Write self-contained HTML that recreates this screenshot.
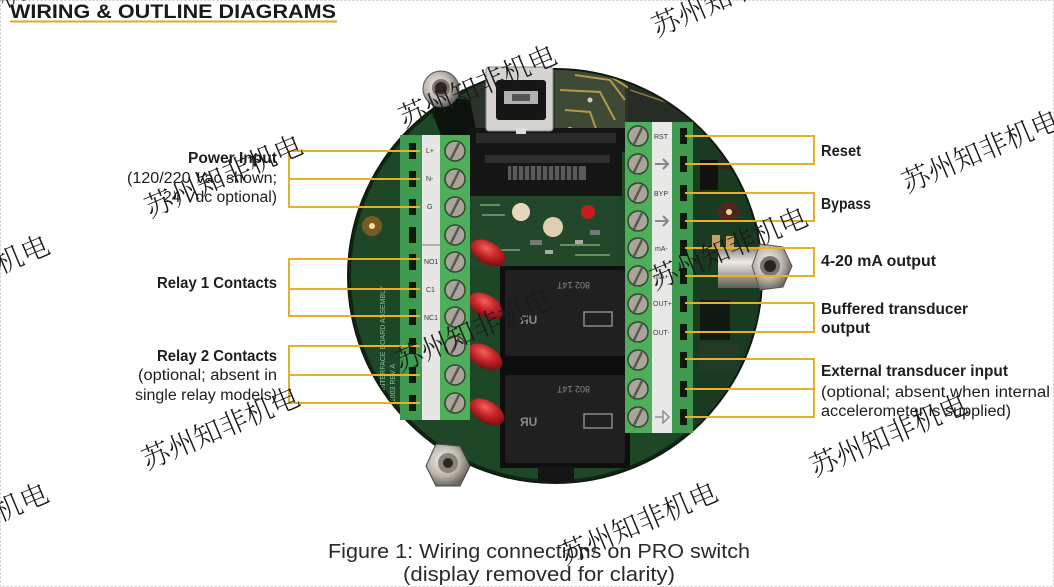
<!DOCTYPE html>
<html><head><meta charset="utf-8"><style>
html,body{margin:0;padding:0;background:#fff;}
svg{display:block;}
.lb{font-family:"Liberation Sans",sans-serif;font-size:15.5px;fill:#1e1e1e;}
.b{font-weight:bold;}
.wm{font-family:"Noto Serif CJK SC","Liberation Serif",serif;font-size:28px;fill:#1a1a1a;font-weight:300;}
.tl{font-family:"Liberation Sans",sans-serif;font-size:7px;fill:#3a3a3a;}
</style></head><body>
<svg width="1054" height="587" viewBox="0 0 1054 587" xmlns="http://www.w3.org/2000/svg">
<defs>
<clipPath id="bd"><circle cx="555" cy="276" r="206"/></clipPath>
<radialGradient id="met" cx="40%" cy="40%" r="60%"><stop offset="0" stop-color="#f4f2ee"/><stop offset="0.6" stop-color="#bdb8ae"/><stop offset="1" stop-color="#6d6860"/></radialGradient>
<linearGradient id="cyl" x1="0" y1="0" x2="0" y2="1"><stop offset="0" stop-color="#8a877f"/><stop offset="0.35" stop-color="#eeece6"/><stop offset="1" stop-color="#5e5a52"/></linearGradient>
<radialGradient id="cap" cx="40%" cy="35%" r="65%"><stop offset="0" stop-color="#f06060"/><stop offset="0.5" stop-color="#c8262a"/><stop offset="1" stop-color="#7a1014"/></radialGradient>
</defs>
<rect x="0.5" y="0.5" width="1053" height="586" fill="#fff" stroke="#c8c8c8" stroke-dasharray="2,2"/>

<!-- board -->
<circle cx="555" cy="276" r="207" fill="#1c4526" stroke="#0e1a10" stroke-width="2"/>
<g clip-path="url(#bd)">
  <rect x="330" y="60" width="460" height="440" fill="#1d4727"/>
  <circle cx="555" cy="276" r="207" fill="none" stroke="#10240f" stroke-width="6"/>
  <!-- top PCB area -->
  <rect x="468" y="60" width="160" height="92" fill="#2c3328"/>
  <rect x="555" y="66" width="70" height="82" fill="#3e4a36"/>
  <path d="M560 90 L600 92 L615 120 M565 110 L590 112 L600 140 M575 75 L610 80 L625 100 M600 70 L640 95" stroke="#b39a4a" stroke-width="2" fill="none"/>
  <circle cx="570" cy="130" r="3" fill="#ccc"/><circle cx="590" cy="100" r="2.5" fill="#ccc"/><circle cx="610" cy="135" r="3" fill="#bbb"/>
  <rect x="628" y="70" width="70" height="52" fill="#262d24"/>
  <path d="M630 90 L690 110 M640 78 L700 105" stroke="#8a7a3a" stroke-width="1.5" fill="none"/>
  <!-- right area -->
  <rect x="693" y="120" width="80" height="330" fill="#1a3a22"/>
  <rect x="700" y="160" width="18" height="30" fill="#111"/>
  <rect x="720" y="150" width="10" height="20" fill="#2a2a2a"/>
  <circle cx="729" cy="212" r="11" fill="#4a2a1c"/><circle cx="729" cy="212" r="3" fill="#f0d890"/>
  <rect x="712" y="235" width="8" height="12" fill="#c8a060"/><rect x="726" y="236" width="8" height="12" fill="#c8a060"/>
  <rect x="700" y="300" width="30" height="40" fill="#111a12"/>
  <rect x="698" y="345" width="40" height="25" fill="#223a26"/>
  <!-- left area pad -->
  <circle cx="372" cy="226" r="10" fill="#7a5a22"/><circle cx="372" cy="226" r="3" fill="#f2e2a0"/>
  <text class="tl" transform="translate(385,420) rotate(-90)" style="fill:#8fc29a;font-size:7px">1000355 INTERFACE BOARD ASSEMBLY</text>
  <text class="tl" transform="translate(395,420) rotate(-90)" style="fill:#8fc29a;font-size:7px">PWB 1003 REV A</text>
  <!-- shadow under standoff -->
  <path d="M425 95 L470 100 L478 140 L445 145 Z" fill="#0c120c"/>
  <!-- central header / connector -->
  <rect x="468" y="128" width="157" height="24" fill="#141414"/>
  <rect x="476" y="133" width="140" height="10" fill="#2a2a2a"/>
  <rect x="470" y="150" width="152" height="46" fill="#151515"/>
  <rect x="485" y="155" width="125" height="8" fill="#2e2e2e"/>
  <rect x="508" y="166" width="78" height="14" fill="#5a5a5a"/>
  <path d="M512 166 V180 M518 166 V180 M524 166 V180 M530 166 V180 M536 166 V180 M542 166 V180 M548 166 V180 M554 166 V180 M560 166 V180 M566 166 V180 M572 166 V180 M578 166 V180" stroke="#262626" stroke-width="2"/>
  <!-- small board -->
  <rect x="472" y="196" width="145" height="72" fill="#23472a"/>
  <path d="M480 205 H500 M482 215 H505 M560 245 H600 M575 255 H610 M490 250 H520" stroke="#6a8a60" stroke-width="2"/>
  <rect x="530" y="240" width="12" height="5" fill="#777"/><rect x="590" y="230" width="10" height="5" fill="#777"/>
  <rect x="545" y="250" width="8" height="4" fill="#aaa"/><rect x="575" y="240" width="8" height="4" fill="#aaa"/>
  <circle cx="521" cy="212" r="9" fill="#e6d7bd"/>
  <circle cx="553" cy="227" r="10" fill="#dfceb0"/>
  <circle cx="588" cy="212" r="7" fill="#c81c1c"/>
  <!-- relays -->
  <rect x="500" y="266" width="130" height="202" fill="#0e0e0e"/>
  <rect x="505" y="270" width="120" height="86" rx="3" fill="#202020"/>
  <rect x="505" y="375" width="120" height="88" rx="3" fill="#202020"/>
  <rect x="584" y="312" width="28" height="14" fill="none" stroke="#8a8a8a" stroke-width="1.5"/>
  <rect x="584" y="414" width="28" height="14" fill="none" stroke="#8a8a8a" stroke-width="1.5"/>
  <text x="520" y="324" font-family="Liberation Sans" font-size="12" font-weight="bold" fill="#8a8a8a">ЯU</text>
  <text x="520" y="426" font-family="Liberation Sans" font-size="12" font-weight="bold" fill="#8a8a8a">ЯU</text>
  <text x="560" y="290" font-family="Liberation Sans" font-size="9" fill="#8a8a8a" transform="rotate(180 575 286)">802 14T</text>
  <text x="560" y="394" font-family="Liberation Sans" font-size="9" fill="#8a8a8a" transform="rotate(180 575 390)">802 14T</text>
  <!-- bottom components -->
  <rect x="538" y="466" width="36" height="18" fill="#151515"/>
</g>

<!-- red capacitors -->
<g>
  <ellipse cx="488" cy="253" rx="19" ry="11" transform="rotate(30 488 253)" fill="url(#cap)"/>
  <ellipse cx="486" cy="306" rx="19" ry="11" transform="rotate(30 486 306)" fill="url(#cap)"/>
  <ellipse cx="485" cy="357" rx="19" ry="11" transform="rotate(30 485 357)" fill="url(#cap)"/>
  <ellipse cx="487" cy="412" rx="19" ry="11" transform="rotate(30 487 412)" fill="url(#cap)"/>
</g>

<!-- left terminal block -->
<rect x="400" y="135" width="22" height="285" fill="#3f9a4f"/>
<rect x="422" y="135" width="18" height="285" fill="#e6e6e4"/>
<rect x="440" y="135" width="30" height="285" fill="#4fae5a"/>
<line x1="422" y1="245" x2="440" y2="245" stroke="#777" stroke-width="1"/>
<g fill="#0e1a0e">
  <rect x="409" y="143" width="7" height="16"/><rect x="409" y="171" width="7" height="16"/><rect x="409" y="199" width="7" height="16"/><rect x="409" y="227" width="7" height="16"/><rect x="409" y="254" width="7" height="16"/><rect x="409" y="282" width="7" height="16"/><rect x="409" y="309" width="7" height="16"/><rect x="409" y="338" width="7" height="16"/><rect x="409" y="367" width="7" height="16"/><rect x="409" y="395" width="7" height="16"/>
</g>
<g fill="#a9a59a" stroke="#2d4a30" stroke-width="1.5">
  <circle cx="455" cy="151" r="10"/><circle cx="455" cy="179" r="10"/><circle cx="455" cy="207" r="10"/><circle cx="455" cy="235" r="10"/><circle cx="455" cy="262" r="10"/><circle cx="455" cy="290" r="10"/><circle cx="455" cy="317" r="10"/><circle cx="455" cy="346" r="10"/><circle cx="455" cy="375" r="10"/><circle cx="455" cy="403" r="10"/>
</g>
<g stroke="#5a5650" stroke-width="2.5">
  <line x1="451" y1="159" x2="459" y2="143"/><line x1="451" y1="187" x2="459" y2="171"/><line x1="451" y1="215" x2="459" y2="199"/><line x1="451" y1="243" x2="459" y2="227"/><line x1="451" y1="270" x2="459" y2="254"/><line x1="451" y1="298" x2="459" y2="282"/><line x1="451" y1="325" x2="459" y2="309"/><line x1="451" y1="354" x2="459" y2="338"/><line x1="451" y1="383" x2="459" y2="367"/><line x1="451" y1="411" x2="459" y2="395"/>
</g>
<g class="tl">
  <text x="426" y="153">L+</text><text x="426" y="181">N-</text><text x="427" y="209">G</text><text x="424" y="264">NO1</text><text x="426" y="292">C1</text><text x="424" y="320">NC1</text>
</g>

<!-- right terminal block -->
<rect x="625" y="122" width="27" height="311" fill="#4fae5a"/>
<rect x="652" y="122" width="20" height="311" fill="#e8e8e6"/>
<rect x="672" y="122" width="21" height="311" fill="#3f9a4f"/>
<g fill="#0e1a0e">
  <rect x="680" y="128" width="7" height="16"/><rect x="680" y="156" width="7" height="16"/><rect x="680" y="185" width="7" height="16"/><rect x="680" y="213" width="7" height="16"/><rect x="680" y="240" width="7" height="16"/><rect x="680" y="268" width="7" height="16"/><rect x="680" y="296" width="7" height="16"/><rect x="680" y="324" width="7" height="16"/><rect x="680" y="352" width="7" height="16"/><rect x="680" y="381" width="7" height="16"/><rect x="680" y="409" width="7" height="16"/>
</g>
<g fill="#a9a59a" stroke="#2d4a30" stroke-width="1.5">
  <circle cx="638" cy="136" r="10"/><circle cx="638" cy="164" r="10"/><circle cx="638" cy="193" r="10"/><circle cx="638" cy="221" r="10"/><circle cx="638" cy="248" r="10"/><circle cx="638" cy="276" r="10"/><circle cx="638" cy="304" r="10"/><circle cx="638" cy="332" r="10"/><circle cx="638" cy="360" r="10"/><circle cx="638" cy="389" r="10"/><circle cx="638" cy="417" r="10"/>
</g>
<g stroke="#5a5650" stroke-width="2.5">
  <line x1="634" y1="144" x2="642" y2="128"/><line x1="634" y1="172" x2="642" y2="156"/><line x1="634" y1="201" x2="642" y2="185"/><line x1="634" y1="229" x2="642" y2="213"/><line x1="634" y1="256" x2="642" y2="240"/><line x1="634" y1="284" x2="642" y2="268"/><line x1="634" y1="312" x2="642" y2="296"/><line x1="634" y1="340" x2="642" y2="324"/><line x1="634" y1="368" x2="642" y2="352"/><line x1="634" y1="397" x2="642" y2="381"/><line x1="634" y1="425" x2="642" y2="409"/>
</g>
<g class="tl">
  <text x="654" y="139">RST</text><text x="654" y="196">BYP</text><text x="655" y="251">mA-</text><text x="654" y="279">mA+</text><text x="653" y="306">OUT+</text><text x="653" y="335">OUT-</text>
</g>
<g stroke="#888" stroke-width="2" fill="none">
  <path d="M655 164 H668 M663 159 L668 164 L663 169"/>
  <path d="M655 221 H668 M663 216 L668 221 L663 226"/>
  <path d="M655 417 H663 M663 411 L669 417 L663 423 Z" stroke-width="1.3"/>
</g>

<!-- metal parts -->
<circle cx="441" cy="89" r="18" fill="url(#met)" stroke="#555" stroke-width="1"/>
<circle cx="441" cy="88" r="9" fill="#7a746a"/>
<circle cx="441" cy="88" r="6" fill="#2e2620"/>
<rect x="486" y="67" width="67" height="64" rx="3" fill="#d4d3cf" stroke="#888" stroke-width="1"/>
<rect x="496" y="80" width="50" height="40" rx="3" fill="#161616"/>
<rect x="504" y="91" width="34" height="13" fill="#b0b0ae"/>
<rect x="512" y="94" width="18" height="7" fill="#555"/>
<rect x="516" y="128" width="10" height="6" fill="#ddd"/>
<!-- right nut/cylinder -->
<rect x="718" y="248" width="48" height="40" fill="url(#cyl)"/>
<polygon points="760,244 783,247 792,266 783,287 760,290 752,266" fill="url(#met)" stroke="#555" stroke-width="1"/>
<circle cx="770" cy="266" r="10" fill="#7a746a"/>
<circle cx="770" cy="266" r="6" fill="#2b2420"/>
<!-- bottom-left nut -->
<polygon points="436,444 460,446 470,466 460,486 436,486 426,466" fill="url(#met)" stroke="#444" stroke-width="1"/>
<circle cx="448" cy="463" r="10" fill="#8a857c"/>
<circle cx="448" cy="463" r="5" fill="#2e2620"/>

<!-- title -->
<text x="10" y="18" font-family="Liberation Sans, sans-serif" font-weight="bold" font-size="19" fill="#1a1a1a" textLength="326" lengthAdjust="spacingAndGlyphs">WIRING &amp; OUTLINE DIAGRAMS</text>
<line x1="10" y1="21.5" x2="337" y2="21.5" stroke="#e2a82a" stroke-width="2"/>

<!-- leader lines -->
<g stroke="#e6b02a" stroke-width="2" fill="none">
  <path d="M289 151 H420 M289 179 H420 M289 207 H420 M289 150 V208"/>
  <path d="M289 259 H420 M289 289 H420 M289 316 H420 M289 258 V317"/>
  <path d="M289 346 H420 M289 375 H420 M289 403 H420 M289 345 V404"/>
  <path d="M685 136 H814 M685 164 H814 M814 135 V165"/>
  <path d="M685 193 H814 M685 221 H814 M814 192 V222"/>
  <path d="M685 248 H814 M685 276 H814 M814 247 V277"/>
  <path d="M685 303 H814 M685 332 H814 M814 302 V333"/>
  <path d="M685 359 H814 M685 389 H814 M685 417 H814 M814 358 V418"/>
</g>

<!-- left labels -->
<g class="lb" text-anchor="end">
  <text class="b" x="277" y="163" textLength="89" lengthAdjust="spacingAndGlyphs">Power Input</text>
  <text x="277" y="183" textLength="150" lengthAdjust="spacingAndGlyphs">(120/220 Vac shown;</text>
  <text x="277" y="202" textLength="114" lengthAdjust="spacingAndGlyphs">24 Vdc optional)</text>
  <text class="b" x="277" y="288" textLength="120" lengthAdjust="spacingAndGlyphs">Relay 1 Contacts</text>
  <text class="b" x="277" y="361" textLength="120" lengthAdjust="spacingAndGlyphs">Relay 2 Contacts</text>
  <text x="277" y="380" textLength="139" lengthAdjust="spacingAndGlyphs">(optional; absent in</text>
  <text x="277" y="400" textLength="142" lengthAdjust="spacingAndGlyphs">single relay models)</text>
</g>
<!-- right labels -->
<g class="lb">
  <text class="b" x="821" y="156" textLength="40" lengthAdjust="spacingAndGlyphs">Reset</text>
  <text class="b" x="821" y="209" textLength="50" lengthAdjust="spacingAndGlyphs">Bypass</text>
  <text class="b" x="821" y="266" textLength="115" lengthAdjust="spacingAndGlyphs">4-20 mA output</text>
  <text class="b" x="821" y="314" textLength="147" lengthAdjust="spacingAndGlyphs">Buffered transducer</text>
  <text class="b" x="821" y="333" textLength="49" lengthAdjust="spacingAndGlyphs">output</text>
  <text class="b" x="821" y="376" textLength="187" lengthAdjust="spacingAndGlyphs">External transducer input</text>
  <text x="821" y="397" textLength="229" lengthAdjust="spacingAndGlyphs">(optional; absent when internal</text>
  <text x="821" y="416" textLength="190" lengthAdjust="spacingAndGlyphs">accelerometer is supplied)</text>
</g>

<!-- caption -->
<g font-family="Liberation Sans, sans-serif" font-size="20" fill="#2a2a2a">
  <text x="328" y="558" textLength="422" lengthAdjust="spacingAndGlyphs">Figure 1: Wiring connections on PRO switch</text>
  <text x="403" y="581" textLength="272" lengthAdjust="spacingAndGlyphs">(display removed for clarity)</text>
</g>

<!-- watermarks -->
<g class="wm">
  <text transform="translate(-100,52) rotate(-23)">苏州知非机电</text>
  <text transform="translate(150,218) rotate(-23)">苏州知非机电</text>
  <text transform="translate(404,128) rotate(-23)">苏州知非机电</text>
  <text transform="translate(657,37) rotate(-23)">苏州知非机电</text>
  <text transform="translate(907,193) rotate(-23)">苏州知非机电</text>
  <text transform="translate(-103,318) rotate(-23)">苏州知非机电</text>
  <text transform="translate(400,372) rotate(-23)">苏州知非机电</text>
  <text transform="translate(655,290) rotate(-23)">苏州知非机电</text>
  <text transform="translate(147,470) rotate(-23)">苏州知非机电</text>
  <text transform="translate(-104,566) rotate(-23)">苏州知非机电</text>
  <text transform="translate(565,565) rotate(-23)">苏州知非机电</text>
  <text transform="translate(815,477) rotate(-23)">苏州知非机电</text>
</g>
</svg>
</body></html>
